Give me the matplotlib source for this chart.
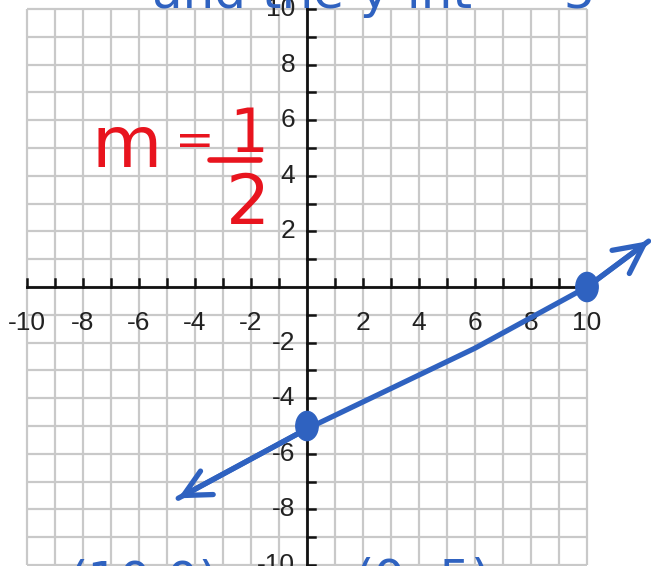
import matplotlib.pyplot as plt
from matplotlib.patches import Ellipse

# axis range and labels
x_ticks = list(range(-10, 11))
y_ticks = list(range(-10, 11))
x_labels = [-10, -8, -6, -4, -2, 2, 4, 6, 8, 10]
y_labels = [10, 8, 6, 4, 2, -2, -4, -6, -8, -10]

# hand drawn line (slope 1/2 through the y-intercept)
line_x = [-4.6, 0, 6, 10, 12.2]
line_y = [-7.6, -5.1, -2.2, 0, 1.65]

# plotted points
pts_x = [0, 10]
pts_y = [-5, 0]

blue = '#2f62c0'
red = '#e8141e'
grid_c = '#c9c9c9'

fig = plt.figure(figsize=(6.51, 5.66), dpi=100)
ax = fig.add_axes([0, 0, 1, 1])
# pixel mapping: -10 at x=27, 10 at x=587 ; 10 at y=9, -10 at y=565
ax.set_xlim(-10 - 27 / 28, 10 + 64 / 28)
ax.set_ylim(-10 - 1 / 27.8, 10 + 9 / 27.8)
ax.axis('off')

# grid
ax.vlines(x_ticks, -10, 10, color=grid_c, lw=1.6, zorder=1)
ax.hlines(y_ticks, -10, 10, color=grid_c, lw=1.6, zorder=1)

# axes
ax.plot([-10, 10], [0, 0], color='#111111', lw=2, zorder=3)
ax.plot([0, 0], [-10, 10], color='#111111', lw=2, zorder=3)
for t in x_ticks:
    if t != 0:
        ax.plot([t, t], [0, 0.3], color='#111111', lw=1.8, zorder=3)
for t in y_ticks:
    if t != 0:
        ax.plot([0, 0.3], [t, t], color='#111111', lw=1.8, zorder=3)

lab_font = ['Liberation Sans Narrow', 'Liberation Sans', 'DejaVu Sans']
for v in x_labels:
    ax.text(v, -1.3, str(v), ha='center', va='center', fontsize=19,
            family=lab_font, color='#222222', zorder=4)
for v in y_labels:
    ax.text(-0.42, v, str(v), ha='right', va='center', fontsize=19,
            family=lab_font, color='#222222', zorder=4)

# the line with arrows
ax.plot(line_x, line_y, color=blue, lw=3.8, solid_capstyle='round', zorder=5)
ax.annotate('', xy=(line_x[0], line_y[0]), xytext=(line_x[1], line_y[1]),
            arrowprops=dict(arrowstyle='->', color=blue, lw=3.8,
                            mutation_scale=48, shrinkA=0, shrinkB=0), zorder=5)
ax.annotate('', xy=(line_x[-1], line_y[-1]), xytext=(line_x[-2], line_y[-2]),
            arrowprops=dict(arrowstyle='->', color=blue, lw=3.8,
                            mutation_scale=52, shrinkA=0, shrinkB=0), zorder=5)

for px, py in zip(pts_x, pts_y):
    ax.add_patch(Ellipse((px, py), 0.8, 1.05, color=blue, zorder=6))

# handwritten notes
ax.text(-6.43, 5.0, 'm', color=red, fontsize=52, ha='center', va='center', zorder=7)
ax.text(-4.0, 5.2, '=', color=red, fontsize=34, ha='center', va='center', zorder=7)
ax.text(-2.1, 5.45, '1', color=red, fontsize=44, ha='center', va='center', zorder=7)
ax.plot([-3.46, -1.68], [4.57, 4.57], color=red, lw=4, solid_capstyle='round', zorder=7)
ax.text(-2.1, 2.95, '2', color=red, fontsize=50, ha='center', va='center', zorder=7)

# cut-off notes at the top and bottom edges
ax.text(2.4, 10.02, 'and the y-int = -5', color=blue, fontsize=36,
        ha='center', va='baseline', zorder=7)
ax.text(-8.5, -9.75, '(10,0)', color=blue, fontsize=36,
        ha='left', va='top', zorder=7)
ax.text(1.7, -9.7, '(0,-5)', color=blue, fontsize=36,
        ha='left', va='top', zorder=7)

plt.savefig('out.png', dpi=100)
